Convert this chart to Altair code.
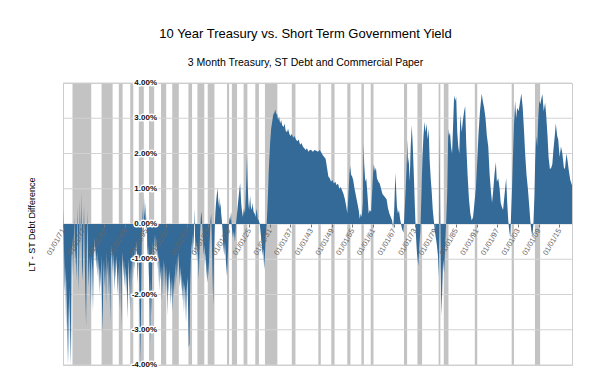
import altair as alt
import pandas as pd

# ---------------- data ----------------
# (decimal year, 10y minus short-term yield in %)
spread_points = [
    (1871.0, -1.3), (1871.15, 0.45), (1871.3, -0.8), (1871.5, -2.0), (1871.7, -1.2), (1871.9, -3.0),
    (1872.1, -1.5), (1872.3, -4.0), (1872.5, -2.2), (1872.7, -4.0), (1872.9, -1.8), (1873.1, -3.2),
    (1873.3, -4.0), (1873.5, -1.0), (1873.7, -0.4), (1873.9, -1.5), (1874.1, -0.6), (1874.3, 0.2),
    (1874.5, -1.2), (1874.7, -0.7), (1874.9, -1.6), (1875.1, -0.5), (1875.3, 0.5), (1875.5, -1.9),
    (1875.7, -1.0), (1875.9, 0.7), (1876.1, -0.8), (1876.3, 0.93), (1876.5, -1.2), (1876.7, -1.6),
    (1876.9, -0.5), (1877.1, 0.55), (1877.3, -1.0), (1877.5, -2.0), (1877.7, -2.9), (1877.9, -0.8),
    (1878.1, 0.4), (1878.3, -1.2), (1878.5, -1.8), (1878.7, -0.9), (1878.9, -1.4), (1879.1, -2.4),
    (1879.3, -0.9), (1879.5, -1.3), (1879.7, -2.5), (1879.9, -1.0), (1880.1, -0.4), (1880.3, -1.1),
    (1880.5, -0.6), (1880.7, -1.3), (1880.9, -0.8), (1881.1, -1.5), (1881.3, -1.0), (1881.5, -2.0),
    (1881.7, -1.2), (1881.9, -1.8), (1882.1, -0.9), (1882.3, -2.2), (1882.5, -3.1), (1882.7, -1.4),
    (1882.9, -1.0), (1883.1, -1.8), (1883.3, -1.2), (1883.5, -2.3), (1883.7, -0.8), (1883.9, -1.5),
    (1884.1, -1.0), (1884.3, -2.0), (1884.5, -1.3), (1884.7, -2.8), (1884.9, -1.1), (1885.1, -0.6),
    (1885.3, -1.4), (1885.5, -0.8), (1885.7, -1.2), (1885.9, -1.9), (1886.1, -1.0), (1886.3, -1.6),
    (1886.5, -0.9), (1886.7, -1.4), (1886.9, -2.0), (1887.1, -1.2), (1887.3, -2.4), (1887.5, -1.0),
    (1887.7, -1.6), (1887.9, -2.9), (1888.1, -1.3), (1888.3, -0.8), (1888.5, -1.5), (1888.7, -1.0),
    (1888.9, -1.8), (1889.1, -1.2), (1889.3, -2.0), (1889.5, -1.4), (1889.7, -2.7), (1889.9, -1.6),
    (1890.1, -1.0), (1890.3, -2.3), (1890.5, -1.2), (1890.7, -2.5), (1890.9, -1.4), (1891.1, -0.8),
    (1891.3, -1.6), (1891.5, -0.9), (1891.7, -1.3), (1891.9, -0.6), (1892.1, -1.1), (1892.3, -0.5),
    (1892.5, -1.0), (1892.7, -1.7), (1892.9, -0.8), (1893.1, -1.5), (1893.3, -2.6), (1893.5, -4.0),
    (1893.7, -1.8), (1893.9, -0.3), (1894.1, 0.5), (1894.3, -0.4), (1894.5, 0.78), (1894.7, 0.2),
    (1894.9, 0.6), (1895.1, -0.3), (1895.3, 0.3), (1895.5, -1.0), (1895.7, -0.6), (1895.9, -1.4),
    (1896.1, -2.0), (1896.3, -3.4), (1896.5, -1.5), (1896.7, -2.6), (1896.9, -1.0), (1897.1, -0.5),
    (1897.3, -1.2), (1897.5, -0.7), (1897.7, -0.3), (1897.9, -0.9), (1898.1, -0.4), (1898.3, -1.3),
    (1898.5, -0.7), (1898.7, -1.1), (1898.9, -1.9), (1899.1, -1.0), (1899.3, -1.6), (1899.5, -1.2),
    (1899.7, -2.2), (1899.9, -1.5), (1900.1, -1.0), (1900.3, -1.8), (1900.5, -1.1), (1900.7, -1.5),
    (1900.9, -2.0), (1901.1, -1.2), (1901.3, -2.6), (1901.5, -1.4), (1901.7, -2.0), (1901.9, -1.3),
    (1902.1, -1.7), (1902.3, -2.3), (1902.5, -1.5), (1902.7, -2.5), (1902.9, -1.6), (1903.1, -2.1),
    (1903.3, -1.4), (1903.5, -1.9), (1903.7, -1.1), (1903.9, -1.6), (1904.1, -0.9), (1904.3, -1.4),
    (1904.5, -0.8), (1904.7, -1.3), (1904.9, -1.8), (1905.1, -1.2), (1905.3, -1.9), (1905.5, -1.4),
    (1905.7, -2.2), (1905.9, -1.6), (1906.1, -2.5), (1906.3, -1.7), (1906.5, -2.0), (1906.7, -2.8),
    (1906.9, -1.9), (1907.1, -1.5), (1907.3, -2.4), (1907.5, -3.5), (1907.7, -3.4), (1907.9, -1.8),
    (1908.1, -1.0), (1908.3, -0.5), (1908.5, -0.9), (1908.7, -0.3), (1908.9, -0.7), (1909.0, -0.2),
    (1909.1, 0.45), (1909.3, -0.3), (1909.5, -0.9), (1909.7, -0.5), (1909.9, -1.1), (1910.1, -0.6),
    (1910.4, -1.58), (1910.6, -0.8), (1910.8, -0.2), (1911.0, 0.2), (1911.2, 0.36), (1911.4, 0.0),
    (1911.6, -0.4), (1911.8, -0.9), (1912.0, -0.6), (1912.2, -1.2), (1912.4, -0.8), (1912.6, -1.3),
    (1912.9, -1.67), (1913.1, -1.1), (1913.3, -1.5), (1913.5, -0.7), (1913.8, 0.1), (1914.0, 0.3),
    (1914.2, -0.5), (1914.4, -1.5), (1914.6, -2.34), (1914.8, -1.0), (1915.0, -0.2), (1915.2, 0.3),
    (1915.4, 0.6), (1915.6, 0.8), (1915.9, 1.02), (1916.1, 0.5), (1916.3, 0.75), (1916.5, 0.45),
    (1916.7, 0.6), (1916.9, 0.3), (1917.1, 0.1), (1917.3, -0.2), (1917.5, -0.6), (1917.8, -0.9),
    (1918.0, -0.5), (1918.3, -1.1), (1918.6, -1.48), (1918.9, -0.7), (1919.1, -0.1), (1919.3, 0.2),
    (1919.5, 0.1), (1919.8, 0.35), (1920.0, -0.1), (1920.3, -0.4), (1920.6, -0.2), (1920.9, -0.5),
    (1921.2, 0.0), (1921.5, 0.3), (1921.8, 0.6), (1922.1, 0.9), (1922.4, 1.16), (1922.7, 0.6),
    (1922.9, 0.4), (1923.2, 0.2), (1923.5, 0.45), (1923.8, 0.3), (1924.0, 0.7), (1924.2, 1.3),
    (1924.4, 2.0), (1924.6, 1.1), (1924.8, 0.6), (1925.0, 0.4), (1925.3, 0.8), (1925.5, 0.5),
    (1925.8, 0.4), (1926.0, 0.6), (1926.3, 0.35), (1926.6, 0.3), (1926.9, 0.2), (1927.2, 0.45),
    (1927.5, 0.15), (1927.8, 0.1), (1928.1, 0.0), (1928.4, -0.3), (1928.7, -0.6), (1928.9, -0.9),
    (1929.1, -0.7), (1929.4, -1.3), (1929.6, -0.9), (1929.8, -0.4), (1930.1, 0.0), (1930.3, 0.4),
    (1930.5, 0.9), (1930.7, 1.5), (1930.9, 1.9), (1931.1, 2.3), (1931.4, 2.7), (1931.7, 2.9),
    (1932.0, 3.1), (1932.3, 3.15), (1932.6, 3.25), (1932.9, 3.1), (1933.1, 3.15), (1933.4, 2.95),
    (1933.7, 3.05), (1934.0, 2.85), (1934.3, 2.95), (1934.6, 2.8), (1935.0, 2.75), (1935.3, 2.85),
    (1935.6, 2.65), (1936.0, 2.6), (1936.3, 2.7), (1936.7, 2.55), (1937.0, 2.5), (1937.4, 2.55),
    (1937.8, 2.45), (1938.2, 2.5), (1938.6, 2.4), (1939.0, 2.35), (1939.4, 2.4), (1939.8, 2.25),
    (1940.2, 2.3), (1940.6, 2.2), (1941.0, 2.15), (1941.4, 2.1), (1941.8, 2.15), (1942.2, 2.05),
    (1942.6, 2.1), (1943.0, 2.1), (1943.5, 2.05), (1944.0, 2.1), (1944.5, 2.08), (1945.0, 2.05),
    (1945.5, 2.1), (1946.0, 2.02), (1946.4, 1.95), (1946.8, 1.9), (1947.2, 1.85), (1947.6, 1.6),
    (1948.0, 1.35), (1948.4, 1.3), (1948.8, 1.2), (1949.2, 1.25), (1949.6, 1.15), (1950.0, 1.2),
    (1950.4, 1.1), (1950.8, 1.15), (1951.2, 1.0), (1951.6, 1.05), (1952.0, 0.95), (1952.4, 0.85),
    (1952.8, 0.7), (1953.2, 0.5), (1953.5, 0.3), (1953.8, 0.8), (1954.1, 1.4), (1954.3, 1.65),
    (1954.6, 1.4), (1954.9, 1.35), (1955.2, 1.25), (1955.6, 1.0), (1956.0, 0.8), (1956.4, 0.6),
    (1956.8, 0.4), (1957.1, 0.15), (1957.4, 0.3), (1957.7, 0.2), (1958.0, 0.6), (1958.2, 2.3),
    (1958.4, 1.7), (1958.7, 1.2), (1959.0, 1.3), (1959.3, 0.9), (1959.7, 0.3), (1960.0, 0.4),
    (1960.4, 0.35), (1960.7, 0.9), (1961.0, 1.5), (1961.2, 1.7), (1961.5, 1.5), (1961.8, 1.6),
    (1962.1, 1.3), (1962.5, 1.2), (1962.9, 1.15), (1963.3, 1.0), (1963.7, 0.85), (1964.1, 0.8),
    (1964.5, 0.75), (1964.9, 0.7), (1965.3, 0.45), (1965.7, 0.3), (1966.1, 0.2), (1966.5, 0.1),
    (1966.8, -0.15), (1967.1, 0.4), (1967.3, 1.0), (1967.5, 1.45), (1967.7, 0.9), (1967.9, 0.5),
    (1968.2, 0.3), (1968.5, 0.4), (1968.8, 0.15), (1969.1, 0.0), (1969.4, -0.15), (1969.8, -0.25),
    (1970.1, 0.3), (1970.4, 0.9), (1970.7, 1.6), (1970.9, 2.4), (1971.1, 1.7), (1971.3, 1.9),
    (1971.6, 1.2), (1971.9, 2.2), (1972.2, 2.8), (1972.5, 2.2), (1972.8, 1.4), (1973.1, 0.5),
    (1973.4, -0.3), (1973.7, -0.8), (1974.1, -1.2), (1974.4, -0.6), (1974.7, -0.2), (1975.0, 0.8),
    (1975.3, 1.9), (1975.6, 2.5), (1975.9, 2.9), (1976.2, 2.6), (1976.5, 2.85), (1976.8, 2.4),
    (1977.1, 2.7), (1977.4, 1.8), (1977.7, 1.3), (1978.0, 0.9), (1978.3, 0.4), (1978.6, 0.1),
    (1978.9, -0.2), (1979.2, -0.4), (1979.5, -0.6), (1979.8, -0.9), (1980.0, -1.5), (1980.2, -0.3),
    (1980.3, 2.6), (1980.45, 0.5), (1980.6, -1.2), (1980.8, -2.6), (1981.0, -2.0), (1981.3, -1.0),
    (1981.6, -1.4), (1981.9, -0.6), (1982.2, 0.1), (1982.5, 0.9), (1982.8, 2.7), (1983.0, 2.5),
    (1983.3, 2.6), (1983.6, 2.2), (1983.9, 2.0), (1984.2, 2.8), (1984.5, 3.65), (1984.8, 3.5),
    (1985.1, 3.6), (1985.4, 2.6), (1985.7, 2.2), (1986.0, 2.0), (1986.3, 3.1), (1986.7, 2.6),
    (1987.0, 2.9), (1987.4, 3.2), (1987.7, 3.35), (1988.0, 2.3), (1988.4, 1.4), (1988.8, 0.7),
    (1989.2, 0.3), (1989.6, 0.1), (1990.0, 0.2), (1990.4, 0.6), (1990.8, 1.0), (1991.2, 1.8),
    (1991.6, 2.6), (1992.0, 3.2), (1992.5, 3.7), (1992.8, 3.5), (1993.2, 3.3), (1993.6, 3.0),
    (1994.0, 2.5), (1994.4, 2.2), (1994.8, 1.4), (1995.2, 0.9), (1995.5, 0.6), (1995.8, 0.9),
    (1996.2, 1.4), (1996.6, 1.75), (1996.9, 1.2), (1997.3, 1.3), (1997.7, 1.0), (1998.0, 0.6),
    (1998.3, 0.5), (1998.7, 0.4), (1999.0, 0.7), (1999.3, 1.0), (1999.6, 1.3), (1999.9, 0.6),
    (2000.2, 0.1), (2000.5, -0.2), (2000.8, -0.4), (2001.0, 0.2), (2001.3, 1.0), (2001.6, 2.0),
    (2001.9, 2.9), (2002.2, 3.5), (2002.5, 3.0), (2002.8, 3.3), (2003.2, 3.2), (2003.6, 3.45),
    (2004.0, 3.7), (2004.4, 3.3), (2004.8, 2.6), (2005.1, 2.0), (2005.5, 1.4), (2005.9, 1.0),
    (2006.3, 0.5), (2006.6, 0.1), (2006.9, -0.2), (2007.2, -0.35), (2007.5, 0.0), (2007.8, 0.8),
    (2008.0, 1.7), (2008.3, 2.5), (2008.6, 2.2), (2008.9, 3.0), (2009.2, 3.5), (2009.5, 3.4),
    (2009.9, 3.6), (2010.1, 3.68), (2010.5, 3.2), (2010.9, 3.45), (2011.2, 3.1), (2011.6, 2.5),
    (2011.9, 1.9), (2012.3, 1.55), (2012.7, 1.6), (2013.0, 1.7), (2013.3, 2.1), (2013.7, 2.5),
    (2014.0, 2.85), (2014.4, 2.5), (2014.7, 2.4), (2015.1, 1.9), (2015.5, 2.2), (2015.9, 2.0),
    (2016.4, 1.55), (2016.7, 1.6), (2017.1, 2.0), (2017.4, 1.8), (2017.8, 1.5), (2018.2, 1.25),
    (2018.7, 1.1),
]

# NBER recessions (decimal years)
rec_start = [1873.75, 1882.2, 1887.2, 1890.5, 1893.0, 1895.95, 1899.45, 1902.7, 1907.4, 1910.0,
             1913.0, 1918.6, 1920.0, 1923.4, 1926.8, 1929.6, 1937.4, 1945.1, 1948.85, 1953.5,
             1957.6, 1960.3, 1969.95, 1973.85, 1980.0, 1981.5, 1990.5, 2001.2, 2007.95]
rec_end = [1879.2, 1885.4, 1888.3, 1891.4, 1894.45, 1897.45, 1900.95, 1904.6, 1908.45, 1912.0,
           1914.95, 1919.2, 1921.5, 1924.5, 1927.85, 1933.2, 1938.45, 1945.8, 1949.8, 1954.4,
           1958.3, 1961.1, 1970.85, 1975.2, 1980.5, 1982.85, 1991.2, 2001.85, 2009.45]

x_tick_years = list(range(1871, 2016, 6))
y_tick_values = [4, 3, 2, 1, 0, -1, -2, -3, -4]
y_tick_labels = ["4.00%", "3.00%", "2.00%", "1.00%", "0.00%", "-1.00%", "-2.00%", "-3.00%", "-4.00%"]

# ---------------- chart ----------------
W, H = 509, 282

df = pd.DataFrame(spread_points, columns=["year", "spread"])
rec_df = pd.DataFrame({"start": rec_start, "end": rec_end})
grid_df = pd.DataFrame({"v": y_tick_values, "label": y_tick_labels})

xscale = alt.Scale(domain=[1871.0, 2018.7], nice=False, zero=False)
yscale = alt.Scale(domain=[-4, 4], nice=False, zero=False)

x_axis = alt.Axis(
    values=x_tick_years,
    labelExpr="'01/01/' + substring(toString(datum.value), 2, 4)",
    labelAngle=-60,
    labelFontSize=7.5,
    labelColor="#666666",
    labelPadding=2,
    labelFlush=False,
    labelOverlap=False,
    tickSize=3,
    tickColor="#777777",
    domain=False,
    grid=False,
    title=None,
    offset=-H / 2,
    zindex=2,
)

y_axis = alt.Axis(
    labels=False,
    ticks=False,
    domain=False,
    grid=False,
    title="LT - ST Debt Difference",
    titleFontSize=9,
    titleFontWeight="normal",
    titleColor="black",
    titlePadding=27,
)

rects = alt.Chart(rec_df).mark_rect(color="#c3c3c3").encode(
    x=alt.X("start:Q", scale=xscale, axis=x_axis),
    x2="end:Q",
    y=alt.value(0),
    y2=alt.value(H),
)

grid = alt.Chart(grid_df).mark_rule(color="#d2d2d2", strokeWidth=1).encode(
    y=alt.Y("v:Q", scale=yscale, axis=y_axis)
)

area = alt.Chart(df).mark_area(color="#346a97", clip=True, interpolate="linear").encode(
    x=alt.X("year:Q", scale=xscale, axis=x_axis),
    y=alt.Y("spread:Q", scale=yscale, axis=y_axis),
)

halo = alt.Chart(grid_df).mark_text(
    align="right", baseline="middle", fontSize=8, fontWeight="bold", fill="white",
    stroke="white", strokeWidth=3, strokeJoin="round",
).encode(
    x=alt.value(94),
    y=alt.Y("v:Q", scale=yscale, axis=y_axis),
    text="label:N",
)

ylabels = alt.Chart(grid_df).mark_text(
    align="right", baseline="middle", fontSize=8, fontWeight="bold", color="#111111",
).encode(
    x=alt.value(94),
    y=alt.Y("v:Q", scale=yscale, axis=y_axis),
    text="label:N",
)

chart = (
    alt.layer(rects, grid, area, halo, ylabels)
    .properties(
        width=W,
        height=H,
        autosize=alt.AutoSizeParams(type="none"),
        padding={"left": 55, "top": 75, "right": 20, "bottom": 5},
        title=alt.TitleParams(
            text="10 Year Treasury vs. Short Term Government Yield",
            subtitle="3 Month Treasury, ST Debt and Commercial Paper",
            fontSize=13,
            fontWeight="normal",
            color="black",
            subtitleFontSize=10.5,
            subtitleColor="black",
            subtitlePadding=17,
            anchor="middle",
            dx=-12,
            offset=11,
        ),
    )
    .configure(font="Liberation Sans")
    .configure_view(stroke="#cccccc")
)

chart.save("out.html", embed_options={"renderer": "svg", "actions": False})
